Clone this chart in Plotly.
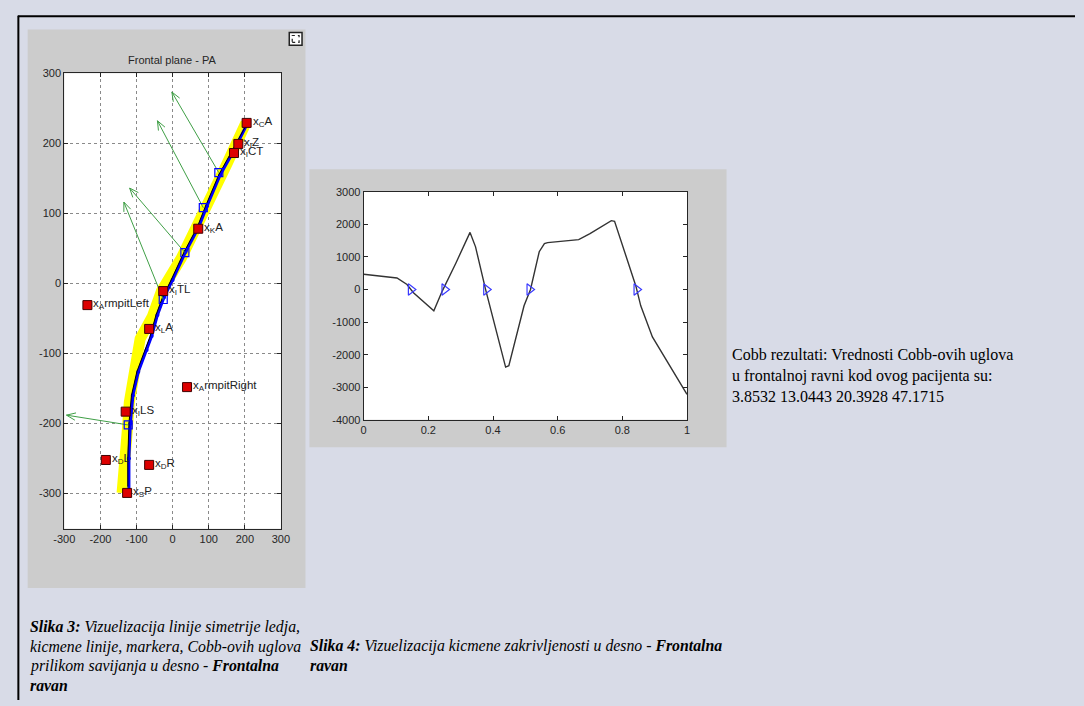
import math
import plotly.graph_objects as go

W, H = 1084, 706

# ---------------- data: left plot (frontal plane) ----------------
sym_x = [-140, -131, -126, -120, -106, -90, -56, -31, 24, 69, 100, 150, 203]
sym_y = [-299, -260, -213, -170, -126, -79, -47, -11, 36, 82, 115, 170, 229]

spine_x = [-121, -121, -117, -110, -95, -72, -58, -42, -24, 0, 36, 72, 95, 132, 170, 208]
spine_y = [-299, -250, -200, -160, -126, -95, -75, -45, -20, 5, 45, 80, 110, 155, 190, 229]

core_x = [-124, -124, -121, -114, -99, -76, -62, -46, -28, -4, 32, 68, 91, 128, 166, 204]
core_y = [-290, -250, -200, -160, -126, -95, -75, -45, -20, 5, 45, 80, 110, 155, 190, 226]

cobb_x = [128, 85, 34, -26, -123]
cobb_y = [158, 108, 44, -23, -202]
tip_x = [-2, -42, -119, -135, -294]
tip_y = [273, 232, 136, 116, -188]

marker_x = [205, 182, 170, 71, -26, -236, -65, 40, -130, -185, -65, -126]
marker_y = [229, 199, 186, 78, -11, -31, -65, -148, -183, -252, -259, -299]
marker_labels = ["x<sub>C</sub>A", "x<sub>I</sub>Z", "x<sub>I</sub>CT", "x<sub>K</sub>A",
                 "x<sub>I</sub>TL", "x<sub>A</sub>rmpitLeft", "x<sub>L</sub>A",
                 "x<sub>A</sub>rmpitRight", "x<sub>I</sub>LS", "x<sub>D</sub>L",
                 "x<sub>D</sub>R", "x<sub>S</sub>P"]

left_ticks = [-300, -200, -100, 0, 100, 200, 300]
left_ticktext = ["-300", "-200", "-100", "0", "100", "200", "300"]

# ---------------- data: right plot (curvature) ----------------
curve_x = [0, 0.06, 0.103, 0.134, 0.154, 0.217, 0.243, 0.285, 0.329, 0.346, 0.377, 0.439,
           0.449, 0.496, 0.516, 0.543, 0.559, 0.569, 0.665, 0.700, 0.766, 0.776, 0.842,
           0.857, 0.893, 1.0]
curve_y = [470, 410, 355, 154, -98, -651, -48, 808, 1753, 1310, 3, -2380, -2340, -500, 0,
           1160, 1411, 1440, 1532, 1713, 2115, 2095, 103, -500, -1455, -3215]
zero_x = [0.146, 0.25, 0.379, 0.513, 0.844]
zero_y = [0, 0, 0, 0, 0]
right_xticks = [0, 0.2, 0.4, 0.6, 0.8, 1]
right_xticktext = ["0", "0.2", "0.4", "0.6", "0.8", "1"]
right_yticks = [-4000, -3000, -2000, -1000, 0, 1000, 2000, 3000]
right_yticktext = ["-4000", "-3000", "-2000", "-1000", "0", "1000", "2000", "3000"]

cobb_text = ["Cobb rezultati: Vrednosti Cobb-ovih uglova",
             "u frontalnoj ravni kod ovog pacijenta su:",
             "3.8532 13.0443 20.3928 47.1715"]

# ---------------- geometry (pixels) ----------------
L_x0, L_x1, L_y0, L_y1 = 54.3, 275.0, 68.3, 531.7
R_x0, R_x1, R_y0, R_y1 = 359.3, 688.7, 189.0, 421.0
L_xr, L_yr = [-300, 300], [-350, 300]


def px(x):
    return x / W


def py(y):
    return 1 - y / H


fig = go.Figure()

# symmetry band (yellow)
fig.add_trace(go.Scatter(x=sym_x, y=sym_y, mode="lines", line=dict(color="#ffff00", width=11),
                         xaxis="x", yaxis="y", hoverinfo="skip"))
# spine (blue)
fig.add_trace(go.Scatter(x=spine_x, y=spine_y, mode="lines+markers",
                         line=dict(color="#0000ff", width=3),
                         marker=dict(color="#0000ff", size=4),
                         xaxis="x", yaxis="y", hoverinfo="skip"))
# thin black line
fig.add_trace(go.Scatter(x=core_x, y=core_y, mode="lines", line=dict(color="#000000", width=1),
                         xaxis="x", yaxis="y", hoverinfo="skip"))

# quiver-like green arrows with open heads
sx = (L_x1 - L_x0) / (L_xr[1] - L_xr[0])
sy = (L_y1 - L_y0) / (L_yr[1] - L_yr[0])
ax_, ay_ = [], []
head_len, head_ang = 10.0, math.radians(22)
for x0, y0, x1, y1 in zip(cobb_x, cobb_y, tip_x, tip_y):
    ax_ += [x0, x1, None]
    ay_ += [y0, y1, None]
    dxp, dyp = (x1 - x0) * sx, (y1 - y0) * sy
    n = math.hypot(dxp, dyp)
    ux, uy = dxp / n, dyp / n
    for s in (1, -1):
        c, si = math.cos(s * head_ang), math.sin(s * head_ang)
        rx, ry = ux * c - uy * si, ux * si + uy * c
        hx, hy = x1 - head_len * rx / sx, y1 - head_len * ry / sy
        ax_ += [x1, hx, None]
        ay_ += [y1, hy, None]
fig.add_trace(go.Scatter(x=ax_, y=ay_, mode="lines", line=dict(color="#3f9f46", width=1),
                         xaxis="x", yaxis="y", hoverinfo="skip"))

# Cobb points (hollow blue squares)
fig.add_trace(go.Scatter(x=cobb_x, y=cobb_y, mode="markers",
                         marker=dict(symbol="square-open", size=8, color="#0000ff",
                                     line=dict(width=1.2)),
                         xaxis="x", yaxis="y", hoverinfo="skip"))
# anatomical markers (red squares)
fig.add_trace(go.Scatter(x=marker_x, y=marker_y, mode="markers",
                         marker=dict(symbol="square", size=9, color="#dd0000",
                                     line=dict(color="#400000", width=1)),
                         xaxis="x", yaxis="y", hoverinfo="skip"))

# right plot
fig.add_trace(go.Scatter(x=curve_x, y=curve_y, mode="lines", line=dict(color="#333333", width=1.4),
                         xaxis="x2", yaxis="y2", hoverinfo="skip"))
fig.add_trace(go.Scatter(x=zero_x, y=zero_y, mode="markers",
                         marker=dict(symbol="triangle-right-open", size=10, color="#3a3aff",
                                     line=dict(width=1.2)),
                         xaxis="x2", yaxis="y2", hoverinfo="skip"))

# ---------------- shapes ----------------
shapes = [
    dict(type="line", xref="paper", yref="paper", x0=px(7), x1=px(1084), y0=py(10.5), y1=py(10.5),
         line=dict(color="#000000", width=2)),
    dict(type="line", xref="paper", yref="paper", x0=px(7.5), x1=px(7.5), y0=py(10), y1=py(706),
         line=dict(color="#000000", width=2)),
    dict(type="rect", xref="paper", yref="paper", x0=px(17), x1=px(300), y0=py(592), y1=py(24),
         fillcolor="#cccccc", line=dict(width=0), layer="below"),
    dict(type="rect", xref="paper", yref="paper", x0=px(304), x1=px(729), y0=py(449), y1=py(166),
         fillcolor="#cccccc", line=dict(width=0), layer="below"),
    dict(type="rect", xref="paper", yref="paper", x0=px(L_x0), x1=px(L_x1), y0=py(L_y1), y1=py(L_y0),
         fillcolor="#ffffff", line=dict(width=0), layer="below"),
    dict(type="rect", xref="paper", yref="paper", x0=px(R_x0), x1=px(R_x1), y0=py(R_y1), y1=py(R_y0),
         fillcolor="#ffffff", line=dict(width=0), layer="below"),
    dict(type="rect", xref="paper", yref="paper", x0=px(283.5), x1=px(296.5), y0=py(40), y1=py(27),
         fillcolor="#ffffff", line=dict(color="#222222", width=1.5)),
    dict(type="rect", xref="paper", yref="paper", x0=px(286.5), x1=px(293.5), y0=py(37), y1=py(30),
         fillcolor="#ffffff", line=dict(color="#222222", width=1.2, dash="dot")),
]

# ---------------- annotations ----------------
ann = []
ann.append(dict(text="Frontal plane - PA", x=px((L_x0 + L_x1) / 2), y=py(55), xref="paper", yref="paper",
                showarrow=False, xanchor="center", yanchor="middle",
                font=dict(family="Liberation Sans, Arial", size=11, color="#262626")))
for x, y, t in zip(marker_x, marker_y, marker_labels):
    ann.append(dict(text=t, x=x, y=y, xref="x", yref="y", showarrow=False, xanchor="left",
                    yanchor="middle", xshift=4, yshift=1,
                    font=dict(family="Liberation Sans, Arial", size=11.5, color="#222222")))

serif = "Liberation Serif, Times New Roman, serif"
for i, t in enumerate(cobb_text):
    ann.append(dict(text=t, x=px(733), y=py(355 + i * 21), xref="paper", yref="paper",
                    showarrow=False, xanchor="left", yanchor="middle",
                    font=dict(family=serif, size=16, color="#000000")))

cap3 = ["<b><i>Slika 3:</i></b><i> Vizuelizacija linije simetrije ledja,</i>",
        "<i>kicmene linije, markera, Cobb-ovih uglova</i>",
        "<i>prilikom savijanja u desno - </i><b><i>Frontalna</i></b>",
        "<b><i>ravan</i></b>"]
for i, t in enumerate(cap3):
    ann.append(dict(text=t, x=px(17), y=py(632 + i * 19.7), xref="paper", yref="paper",
                    showarrow=False, xanchor="left", yanchor="middle",
                    font=dict(family=serif, size=15.8, color="#000000")))
cap4 = ["<b><i>Slika 4:</i></b><i> Vizuelizacija kicmene zakrivljenosti u desno - </i><b><i>Frontalna</i></b>",
        "<b><i>ravan</i></b>"]
for i, t in enumerate(cap4):
    ann.append(dict(text=t, x=px(303), y=py(651.5 + i * 19.7), xref="paper", yref="paper",
                    showarrow=False, xanchor="left", yanchor="middle",
                    font=dict(family=serif, size=15.8, color="#000000")))

tickfont = dict(family="Liberation Sans, Arial", size=11, color="#262626")
common = dict(showline=True, linecolor="#262626", linewidth=1, mirror="ticks", ticks="inside",
              ticklen=4, tickcolor="#262626", zeroline=False, tickfont=tickfont, fixedrange=True)

fig.update_layout(
    width=W, height=H, autosize=False,
    margin=dict(l=0, r=0, t=0, b=0),
    paper_bgcolor="#d8dbe7", plot_bgcolor="rgba(0,0,0,0)",
    showlegend=False,
    shapes=shapes, annotations=ann,
    xaxis=dict(domain=[px(L_x0), px(L_x1)], range=L_xr, anchor="y", tickvals=left_ticks,
               ticktext=left_ticktext, showgrid=True, gridcolor="#8a8a8a", griddash="dot",
               gridwidth=1, **common),
    yaxis=dict(domain=[py(L_y1), py(L_y0)], range=L_yr, anchor="x", tickvals=left_ticks,
               ticktext=left_ticktext, showgrid=True, gridcolor="#8a8a8a", griddash="dot",
               gridwidth=1, **common),
    xaxis2=dict(domain=[px(R_x0), px(R_x1)], range=[0, 1], anchor="y2", tickvals=right_xticks,
                ticktext=right_xticktext, showgrid=False, **common),
    yaxis2=dict(domain=[py(R_y1), py(R_y0)], range=[-4000, 3000], anchor="x2", tickvals=right_yticks,
                ticktext=right_yticktext, showgrid=False, **common),
)

fig.write_html("out.html", config={"displayModeBar": False},
               post_script="document.body.style.margin='0';document.body.style.padding='0';"
                           "document.body.style.background='#d8dbe7';"
                           "document.documentElement.style.background='#d8dbe7';"
                           "document.body.style.overflow='hidden';"
                           "document.documentElement.style.overflow='hidden';")
